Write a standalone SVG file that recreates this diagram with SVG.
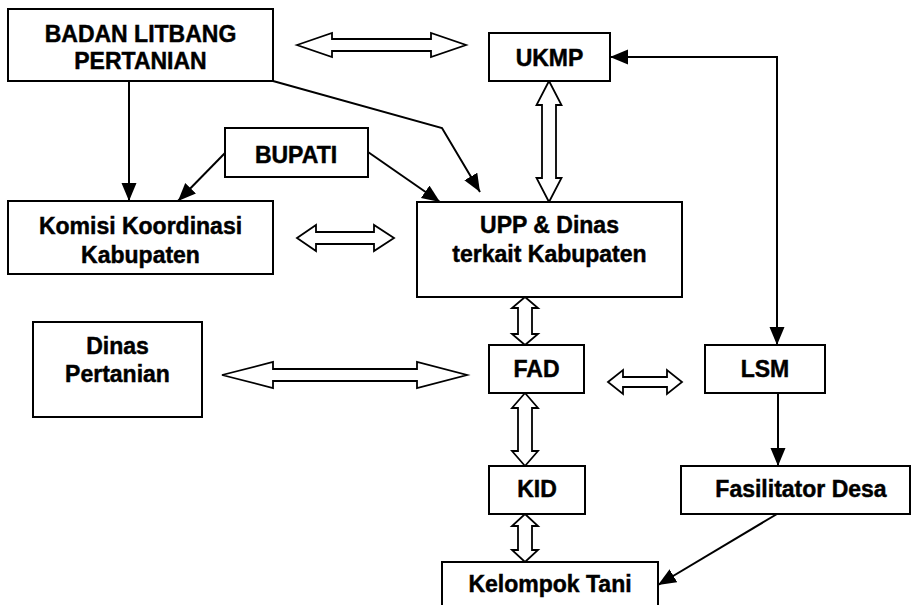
<svg xmlns="http://www.w3.org/2000/svg" width="911" height="605" viewBox="0 0 911 605">
<style>
.box{fill:#fff;stroke:#000;stroke-width:2}
.t{font-family:"Liberation Sans",Arial,sans-serif;font-weight:bold;font-size:23px;fill:#000;stroke:#000;stroke-width:0.45;text-anchor:middle}
.dbl{fill:#fff;stroke:#000;stroke-width:1.8;stroke-linejoin:miter}
.ln{fill:none;stroke:#000;stroke-width:2}
</style>
<defs>
<marker id="ah" markerUnits="userSpaceOnUse" markerWidth="20" markerHeight="16" refX="18" refY="7.5" orient="auto-start-reverse">
<path d="M0,0 L18,7.5 L0,15 z" fill="#000"/>
</marker>
</defs>
<rect width="911" height="605" fill="#fff"/>
<g id="connectors">
<polygon class="dbl" points="297,45 332,33 332,39 431,39 431,33 466,45 431,57 431,51 332,51 332,57"/>
<polygon class="dbl" points="297,238 316,225 316,232 374,232 374,225 394,238 374,251 374,244 316,244 316,251"/>
<polygon class="dbl" points="222,375 273,362 273,369 417,369 417,362 467,375 417,388 417,381 273,381 273,388"/>
<polygon class="dbl" points="608,382 623,370 623,377 667,377 667,370 682,382 667,394 667,387 623,387 623,394"/>
<polygon class="dbl" points="549,81 561.5,105 556,105 556,178 561.5,178 549,202 536.5,178 542,178 542,105 536.5,105"/>
<polygon class="dbl" points="525,297 538,308 532,308 532,334 538,334 525,345 512,334 518,334 518,308 512,308"/>
<polygon class="dbl" points="525,393 538,408 532,408 532,451 538,451 525,466 512,451 518,451 518,408 512,408"/>
<polygon class="dbl" points="525,514 538,526 532,526 532,550 538,550 525,562 512,550 518,550 518,526 512,526"/>
<path class="ln" d="M129,81 V201" marker-end="url(#ah)"/>
<path class="ln" d="M225,153 L178,201" marker-end="url(#ah)"/>
<path class="ln" d="M368,152 L440,202" marker-end="url(#ah)"/>
<path class="ln" d="M273,81 L442,128 L480,192" marker-end="url(#ah)"/>
<path class="ln" d="M777,345 V57 H610" marker-start="url(#ah)" marker-end="url(#ah)"/>
<path class="ln" d="M778,393 V466" marker-end="url(#ah)"/>
<path class="ln" d="M777,514 L658,585" marker-end="url(#ah)"/>
</g>
<g id="badan"><rect class="box" x="8" y="9" width="265" height="72"/><text class="t" x="140.5" y="42">BADAN LITBANG</text><text class="t" x="140.5" y="69">PERTANIAN</text></g>
<g id="ukmp"><rect class="box" x="489" y="33" width="121" height="48"/><text class="t" x="549.5" y="66">UKMP</text></g>
<g id="bupati"><rect class="box" x="225" y="128" width="143" height="49"/><text class="t" x="296" y="163">BUPATI</text></g>
<g id="komisi"><rect class="box" x="8" y="201" width="265" height="73"/><text class="t" x="140.5" y="234">Komisi Koordinasi</text><text class="t" x="140.5" y="263">Kabupaten</text></g>
<g id="upp"><rect class="box" x="417" y="202" width="265" height="95"/><text class="t" x="549.5" y="233">UPP &amp; Dinas</text><text class="t" x="549.5" y="262">terkait Kabupaten</text></g>
<g id="dinas"><rect class="box" x="33" y="322" width="169" height="95"/><text class="t" x="117.5" y="354">Dinas</text><text class="t" x="117.5" y="382">Pertanian</text></g>
<g id="fad"><rect class="box" x="489" y="345" width="95" height="48"/><text class="t" x="536.5" y="377">FAD</text></g>
<g id="lsm"><rect class="box" x="705" y="345" width="120" height="48"/><text class="t" x="765" y="377">LSM</text></g>
<g id="kid"><rect class="box" x="489" y="466" width="96" height="48"/><text class="t" x="537" y="497">KID</text></g>
<g id="fasilitator"><rect class="box" x="681" y="466" width="229" height="48"/><text class="t" x="801" y="497">Fasilitator Desa</text></g>
<g id="kelompok"><rect class="box" x="442" y="562" width="216" height="50"/><text class="t" x="550" y="592">Kelompok Tani</text></g>
</svg>
